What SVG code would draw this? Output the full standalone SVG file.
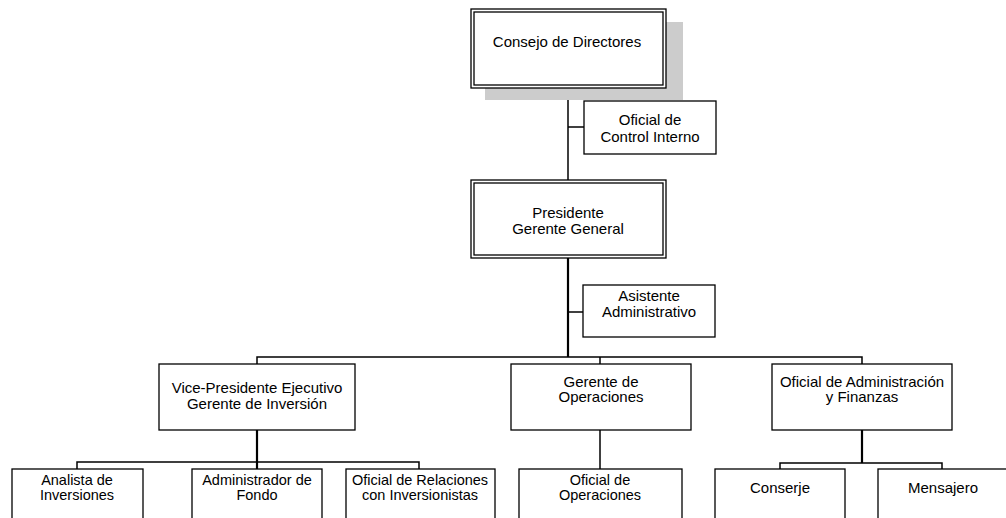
<svg xmlns="http://www.w3.org/2000/svg" width="1006" height="518" viewBox="0 0 1006 518">
<style>
.box{fill:#fff;stroke:#000;stroke-width:1.3}
.t{font-family:"Liberation Sans",Arial,sans-serif;font-size:15px;fill:#000;text-anchor:middle}
.s{font-size:14.5px}
.c{stroke:#000;stroke-width:1.5;fill:none}
.c2{stroke:#000;stroke-width:2.2;fill:none}
</style>
<rect width="1006" height="518" fill="#fff"/>
<g id="connectors">
<line class="c" x1="568" y1="88" x2="568" y2="180"/>
<line class="c" x1="568" y1="127" x2="584" y2="127"/>
<line class="c2" x1="568" y1="258" x2="568" y2="357"/>
<line class="c" x1="568" y1="312" x2="583" y2="312"/>
<polyline class="c" points="257,364 257,357 862,357 862,364"/>
<line class="c" x1="600" y1="357" x2="600" y2="364"/>
<line class="c2" x1="257" y1="430" x2="257" y2="469"/>
<polyline class="c" points="77,469 77,462 419,462 419,469"/>
<line class="c" x1="600" y1="430" x2="600" y2="469"/>
<line class="c2" x1="862" y1="430" x2="862" y2="463"/>
<polyline class="c" points="780,469 780,463 942,463 942,469"/>
</g>
<g id="consejo">
<rect x="485" y="22" width="198" height="78" fill="#cccccc"/>
<rect class="box" x="471" y="9" width="195" height="79"/>
<rect x="474" y="12" width="189" height="73" fill="none" stroke="#000" stroke-width="1.3"/>
<text class="t" x="567" y="47">Consejo de Directores</text>
</g>
<g id="control">
<rect class="box" x="584" y="101" width="132" height="53"/>
<text class="t" x="650" y="125">Oficial de</text>
<text class="t" x="650" y="142">Control Interno</text>
</g>
<g id="presidente">
<rect class="box" x="471" y="180" width="195" height="78"/>
<rect x="474" y="183" width="189" height="72" fill="none" stroke="#000" stroke-width="1.3"/>
<text class="t" x="568" y="218">Presidente</text>
<text class="t" x="568" y="234">Gerente General</text>
</g>
<g id="asistente">
<rect class="box" x="583" y="285" width="132" height="52"/>
<text class="t" x="649" y="301">Asistente</text>
<text class="t" x="649" y="317">Administrativo</text>
</g>
<g id="vp">
<rect class="box" x="159" y="364" width="196" height="66"/>
<text class="t" x="257" y="393">Vice-Presidente Ejecutivo</text>
<text class="t" x="257" y="409">Gerente de Inversión</text>
</g>
<g id="gerente-ops">
<rect class="box" x="511" y="364" width="180" height="66"/>
<text class="t" x="601" y="387">Gerente de</text>
<text class="t" x="601" y="402">Operaciones</text>
</g>
<g id="admin-fin">
<rect class="box" x="772" y="364" width="180" height="66"/>
<text class="t" x="862" y="387">Oficial de Administración</text>
<text class="t" x="862" y="402">y Finanzas</text>
</g>
<g id="analista">
<rect class="box" x="12" y="469" width="131" height="60"/>
<text class="t s" x="77" y="485">Analista de</text>
<text class="t s" x="77" y="500">Inversiones</text>
</g>
<g id="administrador">
<rect class="box" x="192" y="469" width="130" height="60"/>
<text class="t s" x="257" y="485">Administrador de</text>
<text class="t s" x="257" y="500">Fondo</text>
</g>
<g id="relaciones">
<rect class="box" x="346" y="469" width="149" height="60"/>
<text class="t s" x="420" y="485">Oficial de Relaciones</text>
<text class="t s" x="420" y="500">con Inversionistas</text>
</g>
<g id="oficial-ops">
<rect class="box" x="519" y="469" width="163" height="60"/>
<text class="t s" x="600" y="485">Oficial de</text>
<text class="t s" x="600" y="500">Operaciones</text>
</g>
<g id="conserje">
<rect class="box" x="715" y="469" width="130" height="60"/>
<text class="t" x="780" y="493">Conserje</text>
</g>
<g id="mensajero">
<rect class="box" x="878" y="469" width="130" height="60"/>
<text class="t" x="943" y="493">Mensajero</text>
</g>
</svg>
